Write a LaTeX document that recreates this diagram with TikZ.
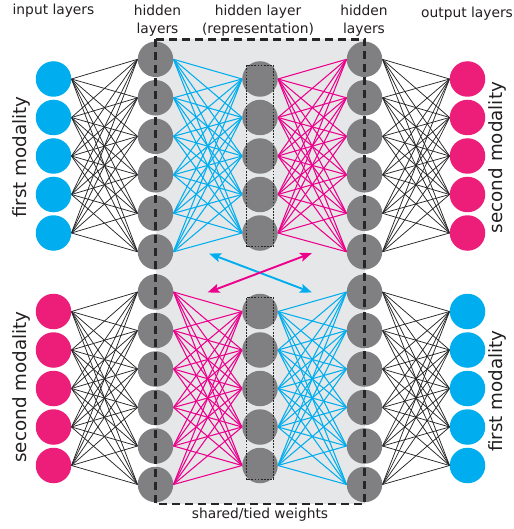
\documentclass[tikz,border=0pt]{standalone}
\usepackage{fontspec}
\setmainfont{DejaVu Sans}
\usetikzlibrary{backgrounds,arrows.meta}

\definecolor{modcyan}{RGB}{0,174,239}
\definecolor{modpink}{RGB}{236,0,140}
\definecolor{unitpink}{RGB}{237,30,121}
\definecolor{unitgray}{RGB}{128,128,131}
\definecolor{sharedbg}{RGB}{230,231,232}
\definecolor{labelgray}{RGB}{35,31,32}

\tikzset{
  unit/.style={circle, inner sep=0pt, minimum size=35.5pt},
  wire/.style={line width=0.75pt, black!85},
  cwire/.style={line width=1.05pt, modcyan},
  pwire/.style={line width=1.05pt, modpink},
  repbox/.style={line width=0.8pt, black!85, dash pattern=on 1.8pt off 1.3pt},
  sharedbox/.style={line width=2.1pt, black!85, dash pattern=on 8pt off 5pt},
  crossarrow/.style={{Stealth[length=12pt,width=9pt,inset=2.5pt]}-{Stealth[length=12pt,width=9pt,inset=2.5pt]}, line width=1.9pt},
  toplabel/.style={inner sep=0pt, text=labelgray, align=center,
    font=\fontsize{13.8}{18}\selectfont},
  sidelabel/.style={inner sep=0pt, text=labelgray, rotate=90, anchor=base,
    font=\fontsize{18.3}{22}\selectfont}
}

\begin{document}
\begin{tikzpicture}[x=1pt,y=-1pt]
    \useasboundingbox (0,0) rectangle (513,529);
    % units of the upper net
    \foreach \i in {1,...,5} {
      \node[unit,fill=modcyan] (inA\i) at (53.5,{40.5+38.5*\i}) {};
      \node[unit,fill=unitgray] (repA\i) at (260,{40.5+38.5*\i}) {};
      \node[unit,fill=unitpink] (outA\i) at (467.5,{40.5+38.5*\i}) {};
    }
    \foreach \j in {1,...,6} {
      \node[unit,fill=unitgray] (hidA\j) at (155.5,{20.8+38.5*\j}) {};
      \node[unit,fill=unitgray] (hodA\j) at (364.5,{20.8+38.5*\j}) {};
    }
    % units of the lower net
    \foreach \i in {1,...,5} {
      \node[unit,fill=unitpink] (inB\i) at (53.5,{273+38.5*\i}) {};
      \node[unit,fill=unitgray] (repB\i) at (260,{273+38.5*\i}) {};
      \node[unit,fill=modcyan] (outB\i) at (467.5,{273+38.5*\i}) {};
    }
    \foreach \j in {1,...,6} {
      \node[unit,fill=unitgray] (hidB\j) at (155.5,{253.5+38.5*\j}) {};
      \node[unit,fill=unitgray] (hodB\j) at (364.5,{253.5+38.5*\j}) {};
    }
    \begin{scope}[on background layer]
      \fill[sharedbg] (155.5,39.5) rectangle (364.5,504);
      % weights
      \foreach \i in {1,...,5}
      \foreach \j in {1,...,6} {
        \draw[wire] (inA\i.east) -- (hidA\j.west);
        \draw[cwire] (hidA\j.east) -- (repA\i.west);
        \draw[pwire] (repA\i.east) -- (hodA\j.west);
        \draw[wire] (hodA\j.east) -- (outA\i.west);
        \draw[wire] (inB\i.east) -- (hidB\j.west);
        \draw[pwire] (hidB\j.east) -- (repB\i.west);
        \draw[cwire] (repB\i.east) -- (hodB\j.west);
        \draw[wire] (hodB\j.east) -- (outB\i.west);
      }
    \end{scope}
    \draw[repbox] ([xshift=-0.5pt,yshift=1pt]repA1.north west) rectangle ([xshift=0.5pt,yshift=-1pt]repA5.south east);
    \draw[repbox] ([xshift=-0.5pt,yshift=1pt]repB1.north west) rectangle ([xshift=0.5pt,yshift=-1pt]repB5.south east);
    \draw[sharedbox] (155.5,39.5) rectangle (364.5,504);
    % cross arrows
    \coordinate (cA) at (209,253.5);
    \coordinate (cB) at (312,292.5);
    \coordinate (pA) at (207.5,292.5);
    \coordinate (pB) at (312,253);
    \draw[crossarrow,modcyan] (cA) -- (cB);
    \draw[crossarrow,modpink] (pA) -- (pB);
    % labels
    \node[toplabel,anchor=base] (lblIn) at (53.5,15) {input layers};
    \node[toplabel,anchor=north] (lblHidL) at (157.5,4.5) {hidden\\layers};
    \node[toplabel,anchor=north] (lblRep) at (258,4.5) {hidden layer\\(representation)};
    \node[toplabel,anchor=north] (lblHidR) at (364,4.5) {hidden\\layers};
    \node[toplabel,anchor=base] (lblOut) at (467,18) {output layers};
    \node[toplabel,anchor=base] (lblShared) at (260,518) {shared/tied weights};
    \node[sidelabel] (lblFirstL) at (26,157) {first modality};
    \node[sidelabel] (lblSecondL) at (26,387) {second modality};
    \node[sidelabel] (lblSecondR) at (502,157.5) {second modality};
    \node[sidelabel] (lblFirstR) at (502,391) {first modality};
\end{tikzpicture}
\end{document}
